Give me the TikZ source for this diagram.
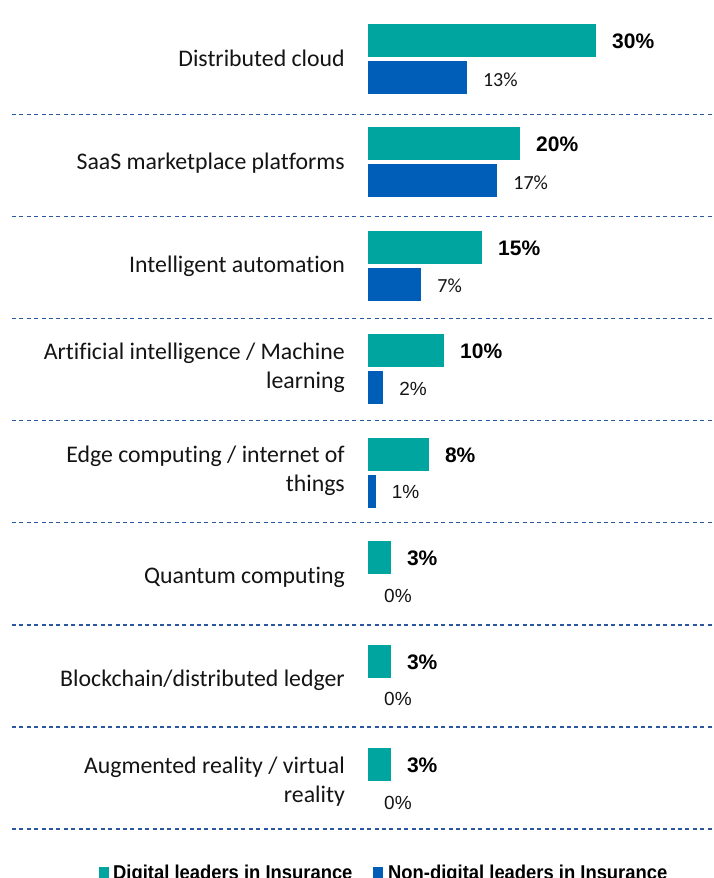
\documentclass[tikz,border=0pt]{standalone}
\usepackage{fontspec}
\setmainfont{Carlito}[Ligatures={NoCommon}]
\newfontfamily\arialf{Liberation Sans}
\definecolor{tealbar}{HTML}{00A59F}
\definecolor{bluebar}{HTML}{005EB8}
\definecolor{dashc}{HTML}{2A57A0}
\definecolor{txt}{HTML}{141414}
\newcommand{\lblc}{\fontsize{20}{24}\selectfont}
\newcommand{\lbla}{\arialf\fontsize{19}{23}\selectfont}
\tikzset{
  catlabel/.style={anchor=base east, inner sep=0pt, text=txt, font=\fontsize{23.8}{29}\selectfont},
  boldval/.style={anchor=base west, inner sep=0pt, text=black, font=\arialf\bfseries\fontsize{21}{25}\selectfont},
  plainval/.style={anchor=base west, inner sep=0pt, text=txt},
  sepline/.style={draw=dashc, line width=1.4pt, dash pattern=on 4pt off 3.4pt},
  legtext/.style={anchor=base west, inner sep=0pt, text=black, font=\arialf\bfseries\fontsize{20}{24}\selectfont}
}
\begin{document}
\begin{tikzpicture}[x=1pt,y=-1pt]
\useasboundingbox (0,0) rectangle (714,878);
\clip (0,0) rectangle (714,878);
\fill[white] (0,0) rectangle (714,878);

% bars and values
\foreach \i/\t/\b/\vf/\dy in {0/30/13/\lblc/62,1/20/17/\lblc/62,2/15/7/\lblc/62,3/10/2/\lbla/61,4/8/1/\lbla/61,5/3/0/\lbla/61,6/3/0/\lbla/61,7/3/0/\lbla/61} {
  \pgfmathsetmacro\T{24+103.43*\i}
  \fill[tealbar] (368,\T) rectangle ++(7.6*\t,33);
  \ifnum\b>0
    \fill[bluebar] (368,\T+37) rectangle ++(7.6*\b,33);
  \fi
  \node[boldval] (dv\i) at (368+7.6*\t+16, \T+24.5) {\t\%};
  \node[plainval, font=\vf] (nv\i) at (368+7.6*\b+16, \T+\dy) {\b\%};
}

% separators
\foreach \i in {0,...,7} {
  \pgfmathsetmacro\L{114.3+102.1*\i}
  \draw[sepline] (12,\L) -- (714,\L);
}

% category labels
\node[catlabel] (c0) at (345,66) {Distributed cloud};
\node[catlabel] (c1) at (345,169.4) {SaaS marketplace platforms};
\node[catlabel] (c2) at (345,272.9) {Intelligent automation};
\node[catlabel] (c3a) at (345,359.3) {Artificial intelligence / Machine};
\node[catlabel] (c3b) at (345,388.3) {learning};
\node[catlabel] (c4a) at (345,462.7) {Edge computing / internet of};
\node[catlabel] (c4b) at (345,491.7) {things};
\node[catlabel] (c5) at (345,583.2) {Quantum computing};
\node[catlabel] (c6) at (345,686.6) {Blockchain/distributed ledger};
\node[catlabel] (c7a) at (345,773) {Augmented reality / virtual};
\node[catlabel] (c7b) at (345,802) {reality};

% legend
\fill[tealbar] (99,867) rectangle (109,878);
\node[legtext] (l1) at (113,879) {\scalebox{0.92}[1]{Digital leaders in Insurance}};
\fill[bluebar] (373,867) rectangle (383,878);
\node[legtext] (l2) at (388,879) {\scalebox{0.92}[1]{Non-digital leaders in Insurance}};
\end{tikzpicture}
\end{document}
